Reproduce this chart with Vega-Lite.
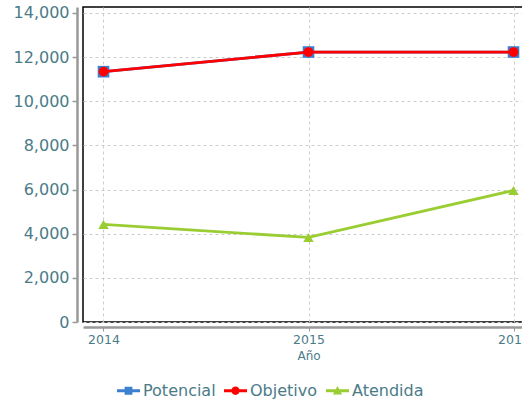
{
  "$schema": "https://vega.github.io/schema/vega-lite/v6.json",
  "width": 451,
  "height": 315,
  "autosize": {"type": "none"},
  "padding": {"left": 83, "top": 7, "right": 0, "bottom": 78},
  "background": "white",
  "config": {
    "font": "DejaVu Sans",
    "view": {"stroke": "#000", "strokeWidth": 1.5}
  },
  "data": {
    "values": [
      {"anio": 2014, "serie": "Potencial", "valor": 11340},
      {"anio": 2015, "serie": "Potencial", "valor": 12230},
      {"anio": 2016, "serie": "Potencial", "valor": 12230},
      {"anio": 2014, "serie": "Objetivo", "valor": 11340},
      {"anio": 2015, "serie": "Objetivo", "valor": 12230},
      {"anio": 2016, "serie": "Objetivo", "valor": 12230},
      {"anio": 2014, "serie": "Atendida", "valor": 4420},
      {"anio": 2015, "serie": "Atendida", "valor": 3830},
      {"anio": 2016, "serie": "Atendida", "valor": 5960}
    ]
  },
  "encoding": {
    "x": {
      "field": "anio", "type": "quantitative",
      "scale": {"domain": [2013.9, 2016.1], "nice": false, "zero": false},
      "axis": {
        "values": [2014, 2015, 2016], "format": "d", "offset": 5,
        "domainColor": "#999", "domainWidth": 2.5, "tickColor": "#999", "tickWidth": 1, "tickSize": 4,
        "labelFontSize": 12.5, "labelColor": "#4a7b88", "labelPadding": 2,
        "grid": true, "gridDash": [3, 3], "gridColor": "#cccccc",
        "title": "Año", "titleFontSize": 12, "titleFontWeight": "normal", "titleColor": "#4a7b88", "titlePadding": 5
      }
    },
    "y": {
      "field": "valor", "type": "quantitative",
      "scale": {"domain": [0, 14270], "nice": false},
      "axis": {
        "values": [0, 2000, 4000, 6000, 8000, 10000, 12000, 14000], "format": ",d", "offset": 6,
        "domainColor": "#999", "domainWidth": 2.5, "tickColor": "#999", "tickWidth": 1.5, "tickSize": 5,
        "labelFontSize": 16, "labelColor": "#4a7b88", "labelPadding": 3,
        "grid": true, "gridDash": [3, 3], "gridColor": "#cccccc",
        "title": null
      }
    },
    "color": {
      "field": "serie", "type": "nominal",
      "scale": {"domain": ["Potencial", "Objetivo", "Atendida"], "range": ["#3d7fd1", "#ff0000", "#9acd32"]}
    }
  },
  "layer": [
    {
      "transform": [{"filter": "datum.serie == 'Potencial'"}],
      "mark": {"type": "point", "shape": "square", "filled": true, "opacity": 1, "size": 135}
    },
    {
      "mark": {"type": "line", "strokeWidth": 2.8}
    },
    {
      "transform": [{"filter": "datum.serie == 'Objetivo'"}],
      "mark": {"type": "point", "shape": "circle", "filled": true, "opacity": 1, "size": 95}
    },
    {
      "transform": [{"filter": "datum.serie == 'Atendida'"}],
      "mark": {"type": "point", "shape": "triangle-up", "filled": true, "opacity": 1, "size": 110}
    },
    {
      "transform": [{"filter": "false"}],
      "mark": {"type": "point", "filled": true, "opacity": 1},
      "encoding": {
        "shape": {
          "field": "serie", "type": "nominal",
          "scale": {
            "domain": ["Potencial", "Objetivo", "Atendida"],
            "range": [
              "M-1,-0.12H1V0.12H-1ZM-0.34,-0.34H0.34V0.34H-0.34Z",
              "M-1,-0.12H1V0.12H-1ZM0.36,0A0.36,0.36 0 1,1 -0.36,0A0.36,0.36 0 1,1 0.36,0Z",
              "M-1,-0.12H1V0.12H-1ZM0,-0.42L0.4,0.32H-0.4Z"
            ]
          },
          "legend": {
            "title": null, "orient": "none", "direction": "horizontal",
            "legendX": 34, "legendY": 372,
            "symbolSize": 529, "symbolStrokeWidth": 0, "symbolOpacity": 1,
            "labelFontSize": 16, "labelColor": "#4a7b88", "labelOffset": 3, "columnPadding": 8
          }
        }
      }
    }
  ]
}
